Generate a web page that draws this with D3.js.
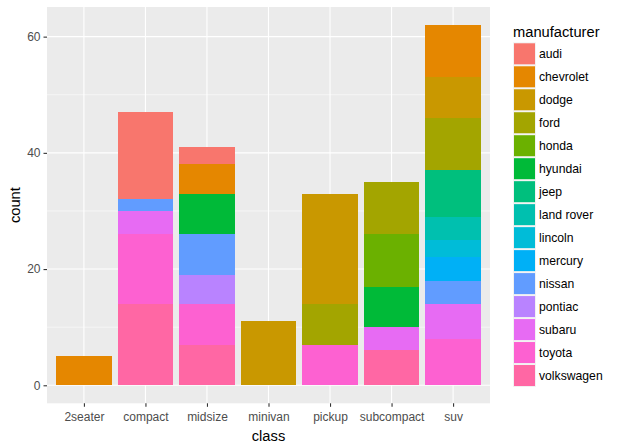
<!DOCTYPE html>
<html><head><meta charset="utf-8">
<script src="https://cdn.jsdelivr.net/npm/d3@7/dist/d3.min.js"></script>
<style>body{margin:0;background:#fff}</style>
</head><body>
<svg id="c" width="619" height="448"></svg>
<script>
const classes = ["2seater","compact","midsize","minivan","pickup","subcompact","suv"];
const manufacturers = ["audi","chevrolet","dodge","ford","honda","hyundai","jeep","land rover","lincoln","mercury","nissan","pontiac","subaru","toyota","volkswagen"];
const colors = ["#F8766D","#E58700","#C99800","#A3A500","#6BB100","#00BA38","#00BF7D","#00C0AF","#00BCD8","#00B0F6","#619CFF","#B983FF","#E76BF3","#FD61D1","#FF67A4"];
// counts per manufacturer, in class order
const audi       = [0,15,3,0,0,0,0];
const chevrolet  = [5,0,5,0,0,0,9];
const dodge      = [0,0,0,11,19,0,7];
const ford       = [0,0,0,0,7,9,9];
const honda      = [0,0,0,0,0,9,0];
const hyundai    = [0,0,7,0,0,7,0];
const jeep       = [0,0,0,0,0,0,8];
const landrover  = [0,0,0,0,0,0,4];
const lincoln    = [0,0,0,0,0,0,3];
const mercury    = [0,0,0,0,0,0,4];
const nissan     = [0,2,7,0,0,0,4];
const pontiac    = [0,0,5,0,0,0,0];
const subaru     = [0,4,0,0,0,4,6];
const toyota     = [0,12,7,0,7,0,8];
const volkswagen = [0,14,7,0,0,6,0];
const yTicks = [0,20,40,60];
const yMinor = [10,30,50];

const series = [audi,chevrolet,dodge,ford,honda,hyundai,jeep,landrover,lincoln,mercury,nissan,pontiac,subaru,toyota,volkswagen];
const rows = classes.map((c,i)=>{const r={cls:c}; manufacturers.forEach((m,j)=>r[m]=series[j][i]); return r;});
// ggplot stacks first level on top: stack in reverse order from bottom
const stack = d3.stack().keys(manufacturers.slice().reverse())(rows);

const svg = d3.select("#c");
const L=47,R=490,T=7,B=403.3;
const totals = rows.map(r=>d3.sum(manufacturers,m=>r[m]));
const ymax = d3.max(totals);
const y = d3.scaleLinear().domain([-0.05*ymax, 1.05*ymax]).range([B,T]);
const xc = d3.scalePoint().domain(classes).range([L+(R-L)*0.6/7.2, R-(R-L)*0.6/7.2]);
const bw = (R-L)/7.2*0.9;
const color = d3.scaleOrdinal().domain(manufacturers).range(colors);

svg.append("rect").attr("x",L).attr("y",T).attr("width",R-L).attr("height",B-T).attr("fill","#EBEBEB");
const g = svg.append("g");
g.selectAll(".minor").data(yMinor).join("line").attr("x1",L).attr("x2",R).attr("y1",d=>y(d)).attr("y2",d=>y(d)).attr("stroke","#fff").attr("stroke-width",0.55);
g.selectAll(".major").data(yTicks).join("line").attr("x1",L).attr("x2",R).attr("y1",d=>y(d)).attr("y2",d=>y(d)).attr("stroke","#fff").attr("stroke-width",1.1);
g.selectAll(".xmaj").data(classes).join("line").attr("x1",d=>xc(d)).attr("x2",d=>xc(d)).attr("y1",T).attr("y2",B).attr("stroke","#fff").attr("stroke-width",1.1);

stack.forEach(s=>{
  svg.append("g").attr("shape-rendering","crispEdges").selectAll("rect").data(s.filter(d=>d[1]-d[0]>0)).join("rect")
    .attr("x",d=>xc(d.data.cls)-bw/2).attr("width",bw)
    .attr("y",d=>y(d[1])).attr("height",d=>y(d[0])-y(d[1]))
    .attr("fill",color(s.key));
});

// axes
const ya = svg.append("g").attr("transform",`translate(${L},0)`).call(d3.axisLeft(y).tickValues(yTicks).tickSize(3.5).tickPadding(3));
const xa = svg.append("g").attr("transform",`translate(0,${B})`).call(d3.axisBottom(xc).tickSize(3.5).tickPadding(4));
[ya,xa].forEach(a=>{
  a.select(".domain").remove();
  a.selectAll(".tick line").attr("stroke","#333").attr("stroke-width",1.1);
  a.selectAll("text").attr("fill","#4D4D4D").attr("font-family","Liberation Sans, Arial, sans-serif").attr("font-size","12px");
});
xa.selectAll("text").attr("dy","0.85em");

svg.append("text").attr("x",(L+R)/2).attr("y",441).attr("text-anchor","middle")
  .attr("font-family","Liberation Sans, Arial, sans-serif").attr("font-size","14.7px").text("class");
svg.append("text").attr("transform",`translate(20,${(T+B)/2}) rotate(-90)`).attr("text-anchor","middle")
  .attr("font-family","Liberation Sans, Arial, sans-serif").attr("font-size","14.7px").text("count");

// legend
const lg = svg.append("g");
lg.append("text").attr("x",513).attr("y",37).attr("font-family","Liberation Sans, Arial, sans-serif").attr("font-size","14.7px").text("manufacturer");
const items = lg.selectAll(".it").data(manufacturers).join("g").attr("transform",(d,i)=>`translate(513,${42.3+i*22.98})`);
items.append("rect").attr("width",23).attr("height",23).attr("fill","#F2F2F2");
items.append("rect").attr("x",1).attr("y",1).attr("width",21).attr("height",21).attr("fill",d=>color(d));
items.append("text").attr("x",26).attr("y",11.5).attr("dy","0.35em").attr("font-family","Liberation Sans, Arial, sans-serif").attr("font-size","12.2px").attr("fill","#000").text(d=>d);
</script>
</body></html>
